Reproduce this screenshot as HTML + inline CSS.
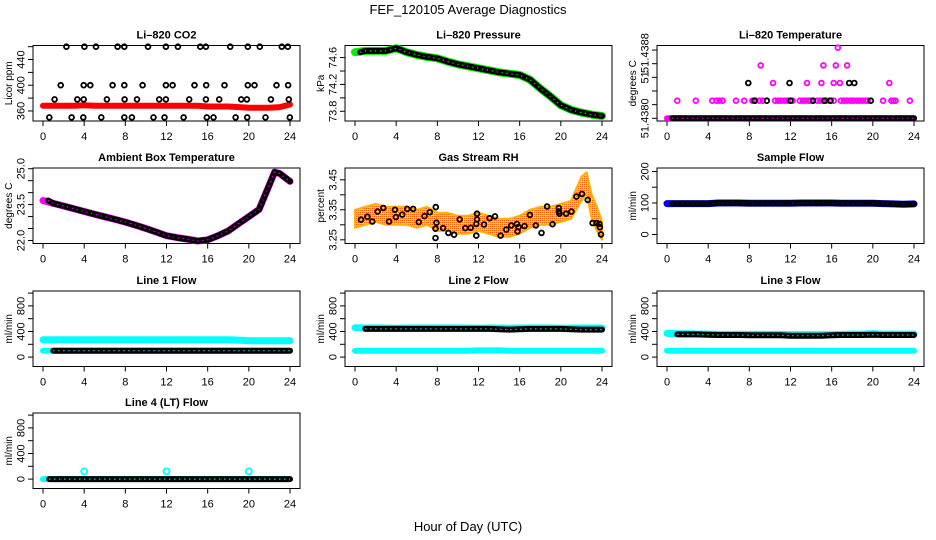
<!DOCTYPE html>
<html><head><meta charset="utf-8"><title>FEF_120105 Average Diagnostics</title>
<style>
html,body{margin:0;padding:0;background:#fff;}
svg{display:block;font-family:"Liberation Sans",sans-serif;}
</style></head>
<body>
<svg id="chart" width="936" height="540" viewBox="0 0 936 540" xmlns="http://www.w3.org/2000/svg">
<defs>
<pattern id="rhpat" width="2" height="2" patternUnits="userSpaceOnUse"><rect width="2" height="2" fill="#ffd800"/><rect width="1" height="1" fill="#ff6000"/><rect x="1" y="1" width="1" height="1" fill="#ffd800"/></pattern>
</defs>
<text x="468" y="14" text-anchor="middle" font-size="13">FEF_120105  Average Diagnostics</text>
<text x="468" y="531" text-anchor="middle" font-size="13">Hour of Day (UTC)</text>
</svg>
<script>
// ---------- data ----------
const hours = [0,1,2,3,4,5,6,7,8,9,10,11,12,13,14,15,16,17,18,19,20,21,22,23,24];
const xTicks = [0,4,8,12,16,20,24];

const co2Band = [368,368,368,368,369,368,368,368,368,368,368,368,368,368,368,368,367,367,367,366,365,365,365,366,370];
const co2PtHours = [2.27,4.02,5.15,7.25,7.9,10.2,11.94,13.11,15.28,15.83,18.19,19.9,21.07,23.2,23.79,
 1.72,3.95,4.6,6.76,7.9,9.68,11.94,12.59,14.72,15.86,17.64,19.9,20.55,22.69,23.82,
 1.13,3.33,3.95,6.21,7.93,9.13,11.29,11.94,14.21,15.83,17.12,19.26,19.81,22.14,23.88,
 0.61,2.78,3.92,5.66,7.9,8.64,10.74,11.81,13.66,15.92,16.57,18.71,19.84,21.62,23.98];
const co2PtVals = [460,460,460,460,460,460,460,460,460,460,460,460,460,460,460,
 400,400,400,400,400,400,400,400,400,400,400,400,400,400,400,
 378,378,378,378,378,378,378,378,378,378,378,378,378,378,378,
 350,350,350,350,350,350,350,350,350,350,350,350,350,350,350];
const co2Ticks = [360,380,400,420,440,460];
const co2TickLabels = ['360','','400','','440',''];

const pressure = [74.68,74.70,74.70,74.70,74.74,74.68,74.64,74.61,74.59,74.54,74.50,74.47,74.44,74.41,74.38,74.36,74.34,74.27,74.14,74.02,73.89,73.82,73.78,73.75,73.73];
const presTicks = [73.8,74.0,74.2,74.4,74.6];
const presTickLabels = ['73.8','','74.2','','74.6'];

const tempMagHours = [1.0,2.8,4.4,4.8,5.1,5.4,6.7,7.5,8.3,8.6,9.0,9.3,10.5,10.8,11.1,11.4,11.7,12.2,12.9,13.2,13.5,13.8,14.0,14.6,14.9,15.2,15.5,15.8,16.2,16.9,17.2,17.5,17.8,18.1,18.4,18.7,19.0,19.3,19.5,21.0,21.8,22.0,22.2,23.6,
 10.3,13.6,15.0,16.2,16.8,21.6, 9.1,15.2,16.4,17.5, 16.6];
const tempMagLevels = [1,1,1,1,1,1,1,1,1,1,1,1,1,1,1,1,1,1,1,1,1,1,1,1,1,1,1,1,1,1,1,1,1,1,1,1,1,1,1,1,1,1,1,1,
 2,2,2,2,2,2, 3,3,3,3, 4];
const tempBlkHours = [8.5,9.7,12.0,14.2,15.3,15.9,19.8, 7.9,11.9,17.7,18.2];
const tempBlkLevels = [1,1,1,1,1,1,1, 2,2,2,2];
const tempBase = [0,0,0,0,0,0,0,0,0,0,0,0,0,0,0,0,0,0,0,0,0,0,0,0,0];
const tempTicks = [0,0.773,1.547,2.32,3.094,3.867];
const tempTickLabels = ['51.4380','','','51','','51.4388'];

const ambHours = [0,1,2,3,4,5,6,7,8,9,10,11,12,13,14,15,16,17,18,19,20,21,22,22.5,23,24];
const ambTemp = [23.67,23.55,23.44,23.33,23.21,23.1,22.99,22.88,22.77,22.64,22.5,22.35,22.2,22.12,22.06,21.98,22.03,22.2,22.4,22.7,23.0,23.3,24.33,24.86,24.8,24.47];
const ambTicks = [22,22.5,23,23.5,24,24.5,25];
const ambTickLabels = ['22.0','','','23.5','','','25.0'];

const rhBandHours = [0,1,2,3,4,5,6,7,8,9,10,11,12,13,14,15,16,17,18,19,20,21,22,22.5,23,23.5,24];
const rhBandMid = [3.32,3.33,3.34,3.33,3.33,3.33,3.32,3.33,3.31,3.31,3.30,3.30,3.31,3.30,3.29,3.29,3.30,3.32,3.33,3.33,3.34,3.35,3.42,3.44,3.36,3.32,3.28];
const rhBandHalf = [0.03,0.03,0.03,0.03,0.03,0.03,0.03,0.03,0.03,0.03,0.03,0.03,0.03,0.03,0.03,0.03,0.03,0.03,0.03,0.03,0.03,0.03,0.04,0.035,0.04,0.04,0.03];
const rhPtHours = [0.58,1.2,1.68,2.2,2.75,3.3,3.88,3.97,4.59,5.07,5.65,6.2,6.75,7.27,7.85,7.91,7.82,7.82,8.56,9.08,9.63,10.17,10.72,11.24,11.79,11.79,11.85,11.85,12.53,13.08,13.6,14.15,14.7,15.18,15.73,15.79,15.89,16.47,16.99,17.57,18.12,18.67,19.19,19.8,19.8,19.86,20.51,21.03,21.51,22.06,22.61,23.09,23.48,23.74,23.8,23.9];
const rhPtVals = [3.317,3.327,3.311,3.344,3.356,3.311,3.350,3.326,3.334,3.353,3.353,3.309,3.329,3.342,3.359,3.307,3.287,3.256,3.289,3.273,3.267,3.318,3.289,3.290,3.264,3.303,3.318,3.337,3.301,3.322,3.328,3.264,3.284,3.298,3.303,3.278,3.292,3.296,3.333,3.298,3.273,3.361,3.302,3.356,3.344,3.337,3.337,3.344,3.394,3.403,3.383,3.306,3.306,3.303,3.292,3.268];
const rhTicks = [3.25,3.30,3.35,3.40,3.45];
const rhTickLabels = ['3.25','','3.35','','3.45'];

const sampleFlow = [98,98,98,98,98,100,100,100,99,99,99,99,99,100,100,100,100,99,99,99,99,98,97,96,97];
const sampleTicks = [0,50,100,150,200];
const sampleTickLabels = ['0','','100','','200'];

const flowTicks = [0,200,400,600,800,1000];
const flowTickLabels = ['0','','400','','800',''];
const l1CyanHigh = [270,270,270,270,270,270,270,270,270,270,270,270,270,270,270,270,270,270,270,265,255,255,255,255,255];
const l1CyanLow = [100,100,100,100,100,100,100,100,100,100,100,100,100,100,100,100,100,100,100,100,100,100,100,100,100];
const l1Black = [100,100,100,100,100,100,100,100,100,100,100,100,100,100,100,100,100,100,100,100,100,100,100,100,100];
const l2CyanHigh = [460,455,455,455,450,455,455,455,455,455,455,455,450,455,455,450,455,455,455,455,450,455,455,455,455];
const l2CyanLow = [100,100,100,100,100,100,100,100,100,100,100,100,105,105,105,100,100,100,100,100,100,100,100,100,100];
const l2Black = [440,440,440,440,440,440,440,440,440,440,440,440,440,440,435,430,435,440,440,440,440,435,430,430,430];
const l3CyanHigh = [370,365,365,360,360,355,355,355,355,355,355,355,350,350,350,350,350,355,360,360,365,360,360,360,360];
const l3CyanLow = [100,100,100,100,100,100,100,100,100,100,100,100,100,100,100,100,100,100,100,100,100,100,100,100,100];
const l3Black = [355,355,355,355,350,345,345,345,340,340,340,340,335,335,335,335,340,345,345,345,350,345,345,345,345];
const l4Cyan = [0,0,0,0,0,0,0,0,0,0,0,0,0,0,0,0,0,0,0,0,0,0,0,0,0];
const l4Black = [0,0,0,0,0,0,0,0,0,0,0,0,0,0,0,0,0,0,0,0,0,0,0,0,0];
const l4SpikeHours = [4,12,20];
const l4SpikeVals = [120,120,120];

// ---------- drawing ----------
const NS = 'http://www.w3.org/2000/svg';
const svg = document.getElementById('chart');
const colLeft = [33, 345, 657];
const boxW = 267, boxH = 75.5;
const rowTop = [45.5, 168, 291, 413];

function mk(tag, parent) { const e = document.createElementNS(NS, tag); parent.appendChild(e); return e; }

function panel(c, r, name, title, ylab, lo, hi, ticks, tlabels, labelShift) {
  const L = colLeft[c], T = rowTop[r], B = T + boxH;
  const g = mk('g', svg);
  
  
  const xs = h => L + 10 + h * (247 / 24);
  const ys = v => B - (v - lo) / (hi - lo) * boxH;
  const box = mk('rect', g);
  box.setAttribute('x', L); box.setAttribute('y', T); box.setAttribute('width', boxW); box.setAttribute('height', boxH);
  box.setAttribute('fill', 'none'); box.setAttribute('stroke', '#000'); box.setAttribute('stroke-width', '1');
  
  
  const tt = mk('text', g);
  tt.setAttribute('x', L + boxW / 2); tt.setAttribute('y', T - 7);
  tt.setAttribute('text-anchor', 'middle'); tt.setAttribute('font-size', '11'); tt.setAttribute('font-weight', 'bold');
  tt.textContent = title;
  
  
  const yl = mk('text', g);
  const ylx = L - 21, yly = T + boxH / 2;
  yl.setAttribute('x', ylx); yl.setAttribute('y', yly); yl.setAttribute('text-anchor', 'middle');
  yl.setAttribute('font-size', '10'); yl.setAttribute('transform', `rotate(-90 ${ylx} ${yly})`);
  yl.textContent = ylab;
  
  
  ticks.forEach((t, i) => {
    const y = ys(t);
    const ln = mk('line', g);
    ln.setAttribute('x1', L - 5); ln.setAttribute('x2', L); ln.setAttribute('y1', y); ln.setAttribute('y2', y);
    ln.setAttribute('stroke', '#000');
    
    
    if (tlabels[i]) {
      const tx = mk('text', g);
      const lx = L - 8.5;
      const ly = y + ((labelShift && labelShift[i]) || 0);
      tx.setAttribute('x', lx); tx.setAttribute('y', ly); tx.setAttribute('text-anchor', 'middle');
      tx.setAttribute('font-size', '11'); tx.setAttribute('transform', `rotate(-90 ${lx} ${ly})`);
      tx.textContent = tlabels[i];
      
      
    }
  });
  xTicks.forEach(h => {
    const x = xs(h);
    const ln = mk('line', g);
    ln.setAttribute('x1', x); ln.setAttribute('x2', x); ln.setAttribute('y1', B); ln.setAttribute('y2', B + 5);
    ln.setAttribute('stroke', '#000');
    
    
    const tx = mk('text', g);
    tx.setAttribute('x', x); tx.setAttribute('y', B + 19); tx.setAttribute('text-anchor', 'middle'); tx.setAttribute('font-size', '11');
    tx.textContent = String(h);
    
    
  });
  const clip = mk('g', g);
  return { g: clip, xs, ys };
}

function band(p, hs, vs, color, w, nm) {
  const pl = mk('polyline', p.g);
  pl.setAttribute('points', hs.map((h, i) => p.xs(h).toFixed(1) + ',' + p.ys(vs[i]).toFixed(1)).join(' '));
  pl.setAttribute('fill', 'none'); pl.setAttribute('stroke', color); pl.setAttribute('stroke-width', w);
  pl.setAttribute('stroke-linecap', 'round'); pl.setAttribute('stroke-linejoin', 'round');
  
  
  return pl;
}
function ringLine(p, hs, vs, inner, nm, start) {
  const h2 = hs.map(h => Math.max(h, start));
  band(p, h2, vs, '#000', 6, nm);
  const pi = band(p, h2, vs, inner, 1.2, nm + '-holes');
  pi.setAttribute('stroke-dasharray', '1.2 3.8');
  pi.setAttribute('stroke-linecap', 'butt');
}
function circles(p, hs, vs, color, r, nm) {
  hs.forEach((h, i) => {
    const c = mk('circle', p.g);
    c.setAttribute('cx', p.xs(h).toFixed(1)); c.setAttribute('cy', p.ys(vs[i]).toFixed(1)); c.setAttribute('r', r);
    c.setAttribute('fill', 'none'); c.setAttribute('stroke', color); c.setAttribute('stroke-width', '1.8');
    
    
  });
}

// CO2
let p = panel(0, 0, 'co2', 'Li\u2013820 CO2', 'Licor ppm', 344.4, 461.8, co2Ticks, co2TickLabels);
band(p, hours, co2Band, '#ff0000', 6, 'co2-band');
circles(p, co2PtHours, co2PtVals, '#000', 2.4, 'co2-point');

// Pressure
p = panel(1, 0, 'pressure', 'Li\u2013820 Pressure', 'kPa', 73.655, 74.78, presTicks, presTickLabels);
band(p, hours, pressure, '#00ee00', 8, 'pressure-band');
ringLine(p, hours, pressure, '#00ee00', 'pressure-line', 0.5);

// Temperature
p = panel(2, 0, 'li820-temp', 'Li\u2013820 Temperature', 'degrees C', -0.153, 4.125, tempTicks, tempTickLabels, [0,0,0,0,0,3]);
band(p, hours, tempBase, '#ff00ff', 6, 'temp-band');
ringLine(p, hours, tempBase, '#ff00ff', 'temp-line', 0.5);
circles(p, tempMagHours, tempMagLevels, '#ff00ff', 2.4, 'temp-magenta-point');
circles(p, tempBlkHours, tempBlkLevels, '#000', 2.4, 'temp-black-point');

// Ambient
p = panel(0, 1, 'ambient', 'Ambient Box Temperature', 'degrees C', 21.874, 25.03, ambTicks, ambTickLabels);
band(p, ambHours, ambTemp, '#ff00ff', 7, 'ambient-band');
ringLine(p, ambHours, ambTemp, '#ff00ff', 'ambient-line', 0.5);

// RH
p = panel(1, 1, 'rh', 'Gas Stream RH', 'percent', 3.2377, 3.4893, rhTicks, rhTickLabels);
{
  const up = rhBandHours.map((h, i) => p.xs(h).toFixed(1) + ',' + p.ys(rhBandMid[i] + rhBandHalf[i]).toFixed(1));
  const dn = rhBandHours.map((h, i) => p.xs(h).toFixed(1) + ',' + p.ys(rhBandMid[i] - rhBandHalf[i]).toFixed(1)).reverse();
  const pg = mk('polygon', p.g);
  pg.setAttribute('points', up.concat(dn).join(' '));
  pg.setAttribute('fill', 'url(#rhpat)'); pg.setAttribute('stroke', '#ffb000'); pg.setAttribute('stroke-width', '2');
  pg.setAttribute('stroke-linejoin', 'round');
  
  
}
circles(p, rhPtHours, rhPtVals, '#000', 2.4, 'rh-point');

// Sample flow
p = panel(2, 1, 'sample-flow', 'Sample Flow', 'ml/min', -28.6, 211, sampleTicks, sampleTickLabels);
band(p, hours, sampleFlow, '#0000ff', 7, 'sample-band');
ringLine(p, hours, sampleFlow, '#0000ff', 'sample-line', 0.5);

// Line 1
p = panel(0, 2, 'line1', 'Line 1 Flow', 'ml/min', -147, 1033, flowTicks, flowTickLabels);
band(p, hours, l1CyanHigh, '#00ffff', 7, 'line1-cyan-high');
band(p, hours, l1CyanLow, '#00ffff', 6, 'line1-cyan-low');
ringLine(p, hours, l1Black, '#00ffff', 'line1-black', 1.0);

// Line 2
p = panel(1, 2, 'line2', 'Line 2 Flow', 'ml/min', -147, 1033, flowTicks, flowTickLabels);
band(p, hours, l2CyanHigh, '#00ffff', 7, 'line2-cyan-high');
band(p, hours, l2CyanLow, '#00ffff', 6, 'line2-cyan-low');
ringLine(p, hours, l2Black, '#00ffff', 'line2-black', 1.0);

// Line 3
p = panel(2, 2, 'line3', 'Line 3 Flow', 'ml/min', -147, 1033, flowTicks, flowTickLabels);
band(p, hours, l3CyanHigh, '#00ffff', 7, 'line3-cyan-high');
band(p, hours, l3CyanLow, '#00ffff', 6, 'line3-cyan-low');
ringLine(p, hours, l3Black, '#00ffff', 'line3-black', 1.0);

// Line 4
p = panel(0, 3, 'line4', 'Line 4 (LT) Flow', 'ml/min', -147, 1033, flowTicks, flowTickLabels);
band(p, hours, l4Cyan, '#00ffff', 6, 'line4-cyan');
ringLine(p, hours, l4Black, '#00ffff', 'line4-black', 0.6);
circles(p, l4SpikeHours, l4SpikeVals, '#00ffff', 3, 'line4-spike');
</script>
</body></html>
